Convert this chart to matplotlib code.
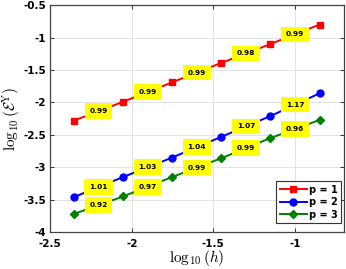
import matplotlib
matplotlib.use("Agg")
import matplotlib.pyplot as plt

plt.rcParams['mathtext.fontset'] = 'cm'

# log10(h)
log_h = [-2.355, -2.053, -1.752, -1.451, -1.150, -0.849]

# log10 of the error for each p
err_p1 = [-2.28, -1.99, -1.69, -1.39, -1.10, -0.80]
err_p2 = [-3.46, -3.15, -2.85, -2.53, -2.21, -1.86]
err_p3 = [-3.72, -3.45, -3.15, -2.86, -2.55, -2.27]

# slope labels between neighbouring points
rates_p1 = ["0.99", "0.99", "0.99", "0.98", "0.99"]
rates_p2 = ["1.01", "1.03", "1.04", "1.07", "1.17"]
rates_p3 = ["0.92", "0.97", "0.99", "0.99", "0.96"]

fig = plt.figure(figsize=(3.46, 2.69), dpi=100)
ax = fig.add_axes([0.145, 0.137, 0.849, 0.844])

series = [
    (err_p1, rates_p1, "p = 1", 's', 'red', 4.3),
    (err_p2, rates_p2, "p = 2", 'o', 'blue', 5),
    (err_p3, rates_p3, "p = 3", 'D', 'green', 4.3),
]

for ys, rates, lab, mk, col, ms in series:
    ax.plot(log_h, ys, marker=mk, color=col, label=lab, linewidth=1.4, markersize=ms)
    for i, r in enumerate(rates):
        xm = (log_h[i] + log_h[i + 1]) / 2
        ym = (ys[i] + ys[i + 1]) / 2
        ax.text(xm, ym, r, fontsize=5.3, fontweight='semibold', ha='center', va='center',
                bbox=dict(boxstyle='square,pad=0.65', facecolor='yellow', edgecolor='none'),
                zorder=5)

ax.set_xlim(-2.5, -0.7)
ax.set_ylim(-4, -0.5)
ax.set_xticks([-2.5, -2, -1.5, -1])
ax.set_xticklabels(["-2.5", "-2", "-1.5", "-1"])
ax.set_yticks([-4, -3.5, -3, -2.5, -2, -1.5, -1, -0.5])
ax.set_yticklabels(["-4", "-3.5", "-3", "-2.5", "-2", "-1.5", "-1", "-0.5"])
ax.tick_params(direction='in', labelsize=7.5, length=3, width=0.7, top=True, right=True,
               colors='#333333', labelcolor='black', pad=3)
ax.tick_params(axis='x', pad=5)
for t in ax.get_xticklabels() + ax.get_yticklabels():
    t.set_fontweight('bold')
ax.grid(True, color='#e3e3e3', linewidth=0.7)
ax.set_axisbelow(True)
for s in ax.spines.values():
    s.set_linewidth(0.9)
    s.set_color('#444444')

ax.set_xlabel(r"$\log_{10}(h)$", fontsize=11, labelpad=-1)
ax.set_ylabel(r"$\log_{10}(\mathcal{E}^{\mathrm{Y}})$", fontsize=11, labelpad=0)

leg = ax.legend(loc='lower right', bbox_to_anchor=(0.99, 0.04),
                prop={'weight': 'bold', 'size': 7},
                fancybox=False, edgecolor='#333333', framealpha=1,
                handlelength=2.8, borderpad=0.35, labelspacing=0.25, handletextpad=0.2,
                borderaxespad=0.0)
leg.get_frame().set_linewidth(0.8)

fig.savefig("out.png", dpi=100)
